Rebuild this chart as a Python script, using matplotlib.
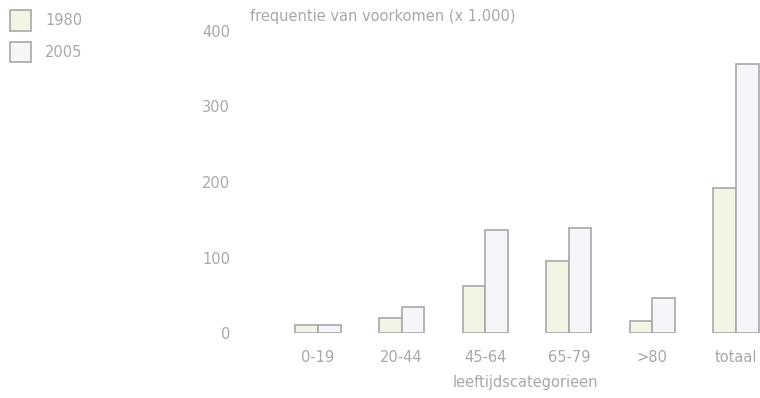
import numpy as np
import matplotlib.pyplot as plt

plt.rcParams['font.family'] = ['DejaVu Sans']

# data (x 1.000)
categories = ['0-19', '20-44', '45-64', '65-79', '>80', 'totaal']
v1980 = [10, 20, 62, 95, 16, 192]
v2005 = [10, 34, 136, 139, 46, 356]
yticks = [0, 100, 200, 300, 400]

txt = '#a8a8a8'
edge = '#a8a8a8'
c1980 = '#f2f4e4'
c2005 = '#f5f5fa'
fs = 10.5

fig = plt.figure(figsize=(7.6, 3.98), dpi=100)
ax = fig.add_axes([265/760, 65/398, 495/760, 302/398])

x = np.arange(len(categories))
w = 0.27
ax.bar(x - w/2, v1980, w, color=c1980, edgecolor=edge, linewidth=1.2, label='1980')
ax.bar(x + w/2, v2005, w, color=c2005, edgecolor=edge, linewidth=1.2, label='2005')

ax.set_xlim(-0.634, 5.287)
ax.set_ylim(0, 400)
ax.set_yticks(yticks)
ax.set_xticks(x)
ax.set_xticklabels(categories)
for s in ax.spines.values():
    s.set_visible(False)
ax.tick_params(axis='y', length=0, pad=25, labelsize=fs, labelcolor=txt)
ax.tick_params(axis='x', length=0, pad=12, labelsize=fs, labelcolor=txt)

fig.text(250/760, 1 - 17/398, 'frequentie van voorkomen (x 1.000)', color=txt,
         fontsize=fs, ha='left', va='center')
fig.text(525/760, 1 - 382/398, 'leeftijdscategorieen', color=txt,
         fontsize=fs, ha='center', va='center')

fig.legend(loc='upper left', bbox_to_anchor=(0.0, 1.0), frameon=False,
           fontsize=fs, labelcolor=txt, handlelength=1.4, handleheight=1.8,
           handletextpad=1.0, labelspacing=0.75, borderaxespad=0.3)

fig.savefig('out.png', dpi=100)
